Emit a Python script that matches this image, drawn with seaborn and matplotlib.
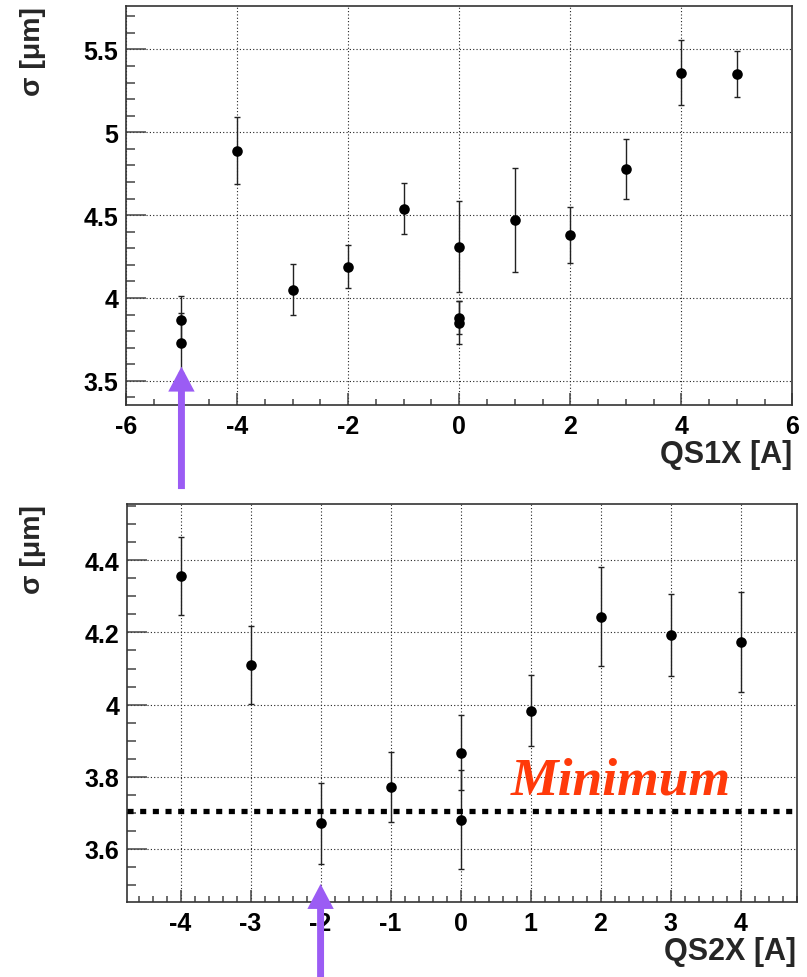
import numpy as np
import pandas as pd
import matplotlib
matplotlib.use("Agg")
import matplotlib.pyplot as plt
from matplotlib.ticker import MultipleLocator, FixedLocator, FixedFormatter
import seaborn as sns

# ---------------- data ----------------
qs1x = [-5, -5, -4, -3, -2, -1, 0, 0, 0, 1, 2, 3, 4, 5]
sigma1 = [3.87, 3.73, 4.89, 4.05, 4.19, 4.54, 4.31, 3.88, 3.85, 4.47, 4.38, 4.78, 5.36, 5.35]
err1 = [0.14, 0.18, 0.20, 0.155, 0.13, 0.155, 0.275, 0.10, 0.13, 0.315, 0.17, 0.18, 0.195, 0.14]

qs2x = [-4, -3, -2, -1, 0, 0, 1, 2, 3, 4]
sigma2 = [4.357, 4.111, 3.671, 3.772, 3.867, 3.681, 3.983, 4.244, 4.193, 4.173]
err2 = [0.108, 0.108, 0.112, 0.096, 0.105, 0.137, 0.098, 0.136, 0.113, 0.139]

minimum_level = 3.706
minimum_text = "Minimum"

top_xticks = [-6, -4, -2, 0, 2, 4, 6]
top_xticklabels = ["-6", "-4", "-2", "0", "2", "4", "6"]
top_yticks = [3.5, 4.0, 4.5, 5.0, 5.5]
top_yticklabels = ["3.5", "4", "4.5", "5", "5.5"]
bot_xticks = [-4, -3, -2, -1, 0, 1, 2, 3, 4]
bot_xticklabels = ["-4", "-3", "-2", "-1", "0", "1", "2", "3", "4"]
bot_yticks = [3.6, 3.8, 4.0, 4.2, 4.4]
bot_yticklabels = ["3.6", "3.8", "4", "4.2", "4.4"]

top_xlabel = "QS1X [A]"
bot_xlabel = "QS2X [A]"
ylabel = "σ [μm]"

arrow1_x = -5
arrow2_x = -2

# ---------------- style ----------------
sns.set_style("white")
plt.rcParams["font.family"] = ["Liberation Sans", "DejaVu Sans"]
plt.rcParams["font.weight"] = "bold"

df1 = pd.DataFrame({"x": qs1x, "y": sigma1, "e": err1})
df2 = pd.DataFrame({"x": qs2x, "y": sigma2, "e": err2})

fig = plt.figure(figsize=(8.07, 9.78), dpi=100)
ax1 = fig.add_axes([0.156, 0.585, 0.826, 0.408])
ax2 = fig.add_axes([0.157, 0.0767, 0.830, 0.407])

arrow_color = "#9b5cf4"


def style_axes(ax, xlim, ylim, xticks, xticklabels, yticks, yticklabels,
               xminor, yminor, xlabel):
    ax.set_xlim(*xlim)
    ax.set_ylim(*ylim)
    ax.xaxis.set_major_locator(FixedLocator(xticks))
    ax.xaxis.set_major_formatter(FixedFormatter(xticklabels))
    ax.yaxis.set_major_locator(FixedLocator(yticks))
    ax.yaxis.set_major_formatter(FixedFormatter(yticklabels))
    ax.xaxis.set_minor_locator(MultipleLocator(xminor))
    ax.yaxis.set_minor_locator(MultipleLocator(yminor))
    ax.tick_params(axis="both", which="both", direction="in", colors="#444444",
                   bottom=True, left=True, top=False, right=False,
                   labelcolor="black")
    ax.tick_params(axis="y", which="major", length=14.5, width=1.1, pad=5.5,
                   labelsize=18)
    ax.tick_params(axis="y", which="minor", length=6.5, width=1.1)
    ax.tick_params(axis="x", which="major", length=9, width=1.1, pad=6.5,
                   labelsize=18)
    ax.tick_params(axis="x", which="minor", length=4.5, width=1.1)
    ax.grid(True, which="major", color="#222222", linestyle=(0, (1, 2)), linewidth=0.8)
    for sp in ax.spines.values():
        sp.set_color("#333333")
        sp.set_linewidth(1.2)
        sp.set_visible(True)
    ax.set_xlabel(xlabel, fontsize=22, fontweight="bold", loc="right")
    ax.xaxis.set_label_coords(1.0, -0.143)
    ax.xaxis.label.set_va("baseline")
    ax.set_ylabel(ylabel, fontsize=20.5, fontweight="bold", loc="top")
    ax.yaxis.set_label_coords(-0.14, 1.0)
    ax.yaxis.label.set_va("center")


# ---- top panel ----
ax1.errorbar(df1["x"], df1["y"], yerr=df1["e"], fmt="none", ecolor="#222222",
             elinewidth=1.0, capsize=2.2, capthick=1.0, zorder=3)
sns.scatterplot(data=df1, x="x", y="y", ax=ax1, color="black", s=58,
                edgecolor="black", linewidth=0, zorder=4)
style_axes(ax1, (-6, 6), (3.355, 5.763), top_xticks, top_xticklabels,
           top_yticks, top_yticklabels, 0.5, 0.1, top_xlabel)

ann1 = ax1.annotate("", xy=(arrow1_x, 3.586), xytext=(arrow1_x, 2.847),
                    xycoords="data", textcoords="data", annotation_clip=False,
                    arrowprops=dict(width=5, headwidth=19, headlength=18,
                                    shrink=0, color=arrow_color, linewidth=0))
ann1.arrow_patch.set_clip_on(False)
ann1.set_zorder(6)

# ---- bottom panel ----
ax2.errorbar(df2["x"], df2["y"], yerr=df2["e"], fmt="none", ecolor="#222222",
             elinewidth=1.0, capsize=2.2, capthick=1.0, zorder=3)
sns.scatterplot(data=df2, x="x", y="y", ax=ax2, color="black", s=58,
                edgecolor="black", linewidth=0, zorder=4)
style_axes(ax2, (-4.77, 4.8), (3.453, 4.556), bot_xticks, bot_xticklabels,
           bot_yticks, bot_yticklabels, 0.2, 0.05, bot_xlabel)

ax2.axhline(minimum_level, color="black", linewidth=3.8,
            linestyle=(0, (1.15, 1.25)), dash_capstyle="butt", zorder=5)
ax2.text(2.29, 3.753, minimum_text, color="#ff3a0a", fontsize=38.5,
         family="Liberation Serif", fontweight="bold", fontstyle="italic",
         ha="center", va="baseline", zorder=6)

ann2 = ax2.annotate("", xy=(arrow2_x, 3.503), xytext=(arrow2_x, 3.24),
                    xycoords="data", textcoords="data", annotation_clip=False,
                    arrowprops=dict(width=5, headwidth=19, headlength=18,
                                    shrink=0, color=arrow_color, linewidth=0))
ann2.arrow_patch.set_clip_on(False)
ann2.set_zorder(6)

fig.savefig("out.png", dpi=100)
